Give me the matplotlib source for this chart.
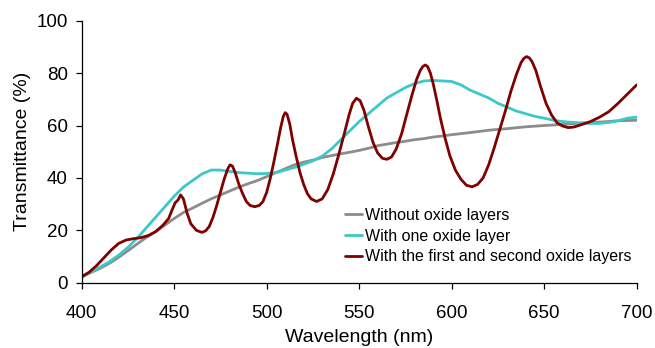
import numpy as np
import matplotlib.pyplot as plt

# Without oxide layers
wl_bare = [400, 410, 415, 420, 425, 430, 435, 440, 445, 450, 455, 460, 465, 470,
           475, 480, 485, 490, 495, 500, 505, 510, 515, 520, 525, 530, 535, 540,
           545, 550, 555, 560, 565, 570, 575, 580, 585, 590, 595, 600, 610, 620,
           630, 640, 650, 660, 670, 680, 690, 700]
t_bare = [2.3, 5.5, 7.4, 9.7, 12.2, 14.8, 17.3, 19.5, 22.0, 24.5, 26.8, 28.5, 30.3,
          32.0, 33.5, 35.0, 36.5, 37.8, 39.0, 40.5, 42.0, 43.5, 45.0, 46.0, 46.8,
          47.8, 48.5, 49.2, 49.8, 50.5, 51.3, 52.3, 52.9, 53.5, 54.0, 54.6, 55.0,
          55.6, 56.0, 56.5, 57.3, 58.2, 58.8, 59.5, 60.0, 60.4, 60.9, 61.3, 61.8, 62.0]

# With one oxide layer
wl_one = [400, 405, 410, 415, 420, 425, 430, 435, 440, 445, 450, 455, 460, 465, 470,
          475, 480, 485, 490, 495, 500, 505, 510, 515, 520, 525, 530, 535, 540, 545,
          550, 555, 560, 565, 570, 575, 580, 585, 590, 595, 600, 605, 610, 615, 620,
          625, 630, 635, 640, 645, 650, 655, 660, 665, 670, 675, 680, 685, 690, 695, 700]
t_one = [2.0, 4.0, 6.0, 8.0, 10.5, 13.5, 17.0, 21.0, 25.0, 29.0, 33.0, 36.5, 39.0,
         41.5, 43.0, 43.0, 42.5, 42.0, 41.8, 41.6, 41.7, 42.0, 43.0, 44.0, 45.2, 46.5,
         48.3, 51.0, 54.5, 58.0, 61.5, 64.5, 67.5, 70.5, 72.5, 74.5, 76.0, 77.0, 77.2,
         77.0, 76.8, 75.5, 73.5, 72.0, 70.5, 68.5, 67.0, 65.5, 64.5, 63.5, 62.8, 62.0,
         61.5, 61.2, 61.0, 60.8, 60.8, 61.2, 61.8, 62.8, 63.2]

# With the first and second oxide layers
wl_two = [400, 404, 408, 412, 416, 420, 424, 428, 432, 436, 440, 444, 447, 449, 450.5,
          452, 453.5, 455, 457, 459, 462, 465, 467, 469, 471, 473, 475, 477, 479,
          480.2, 481.5, 483, 485, 487, 489, 491, 493.5, 496, 498, 500, 502, 504, 506,
          507.5, 509, 510, 511, 512.5, 514, 516, 518, 520, 522, 524, 527, 530, 533,
          536, 539, 542, 544.5, 546.5, 548.5, 550.5, 552.5, 555, 557.5, 560, 562.5,
          565, 567.5, 570, 573, 576, 578.5, 581, 583, 584.5, 585.8, 587, 588.5, 590,
          592, 594, 596.5, 599, 602, 605, 608, 611, 614, 617, 620, 623, 626, 629, 632,
          635, 637.5, 639, 640.5, 642, 643.5, 645.5, 648, 651, 654, 657, 660, 663, 666,
          670, 675, 680, 685, 690, 695, 700]
t_two = [2.3, 4.0, 6.5, 9.5, 12.5, 15.0, 16.3, 16.8, 17.2, 18.0, 19.5, 22.0, 24.5,
         28.0, 30.5, 31.5, 33.5, 32.0, 26.5, 22.5, 20.0, 19.2, 19.8, 21.5, 25.0, 29.5,
         34.5, 39.5, 43.5, 45.0, 44.5, 42.0, 37.5, 34.0, 31.0, 29.5, 29.0, 29.5, 31.0,
         34.5, 40.0, 46.5, 53.5, 59.0, 63.5, 64.9, 64.3, 60.5, 54.5, 48.0, 42.0, 37.5,
         34.0, 32.0, 31.0, 32.0, 35.5, 41.5, 49.0, 57.0, 64.0, 68.5, 70.4, 69.5, 66.0,
         59.5, 53.5, 49.5, 47.5, 47.1, 48.0, 51.0, 57.0, 65.0, 71.5, 77.5, 81.0, 82.6,
         83.1, 82.5, 80.0, 76.0, 69.5, 62.5, 55.0, 48.5, 43.0, 39.5, 37.2, 36.6, 37.5,
         40.0, 45.0, 51.5, 58.5, 65.5, 73.0, 79.5, 84.0, 85.6, 86.3, 85.8, 84.3, 81.0,
         75.0, 68.5, 64.0, 61.0, 59.8, 59.2, 59.4, 60.3, 61.5, 63.2, 65.3, 68.5, 72.0,
         75.5]

plt.rcParams["font.family"] = ["Liberation Sans", "DejaVu Sans"]

fig = plt.figure(figsize=(6.55, 3.48), dpi=100)
ax = fig.add_axes([0.1247, 0.1876, 0.8473, 0.7529])

style = dict(lw=2.0, solid_joinstyle="round", solid_capstyle="round")
ax.plot(wl_bare, t_bare, color="#8c8c8c", label="Without oxide layers", **style)
ax.plot(wl_one, t_one, color="#3cc8c8", label="With one oxide layer", **style)
ax.plot(wl_two, t_two, color="#800000",
        label="With the first and second oxide layers", **style)

ax.set_xlim(400, 700)
ax.set_ylim(0, 100)
ax.set_xticks(np.arange(400, 701, 50))
ax.set_yticks(np.arange(0, 101, 20))
for s in ["top", "right"]:
    ax.spines[s].set_visible(False)
for s in ["left", "bottom"]:
    ax.spines[s].set_linewidth(0.9)
ax.tick_params(axis="both", direction="out", length=4, width=0.9, labelsize=13.5)
ax.tick_params(axis="x", pad=12)
ax.tick_params(axis="y", pad=6)
ax.set_xlabel("Wavelength (nm)", fontsize=14, labelpad=5)
ax.set_ylabel("Transmittance (%)", fontsize=14, labelpad=4)

ax.legend(loc="upper left", bbox_to_anchor=(0.474, 0.285), frameon=False,
          fontsize=11.5, handlelength=1.1, handletextpad=0.15,
          labelspacing=0.35, borderpad=0, borderaxespad=0)

fig.savefig("out.png", dpi=100)
